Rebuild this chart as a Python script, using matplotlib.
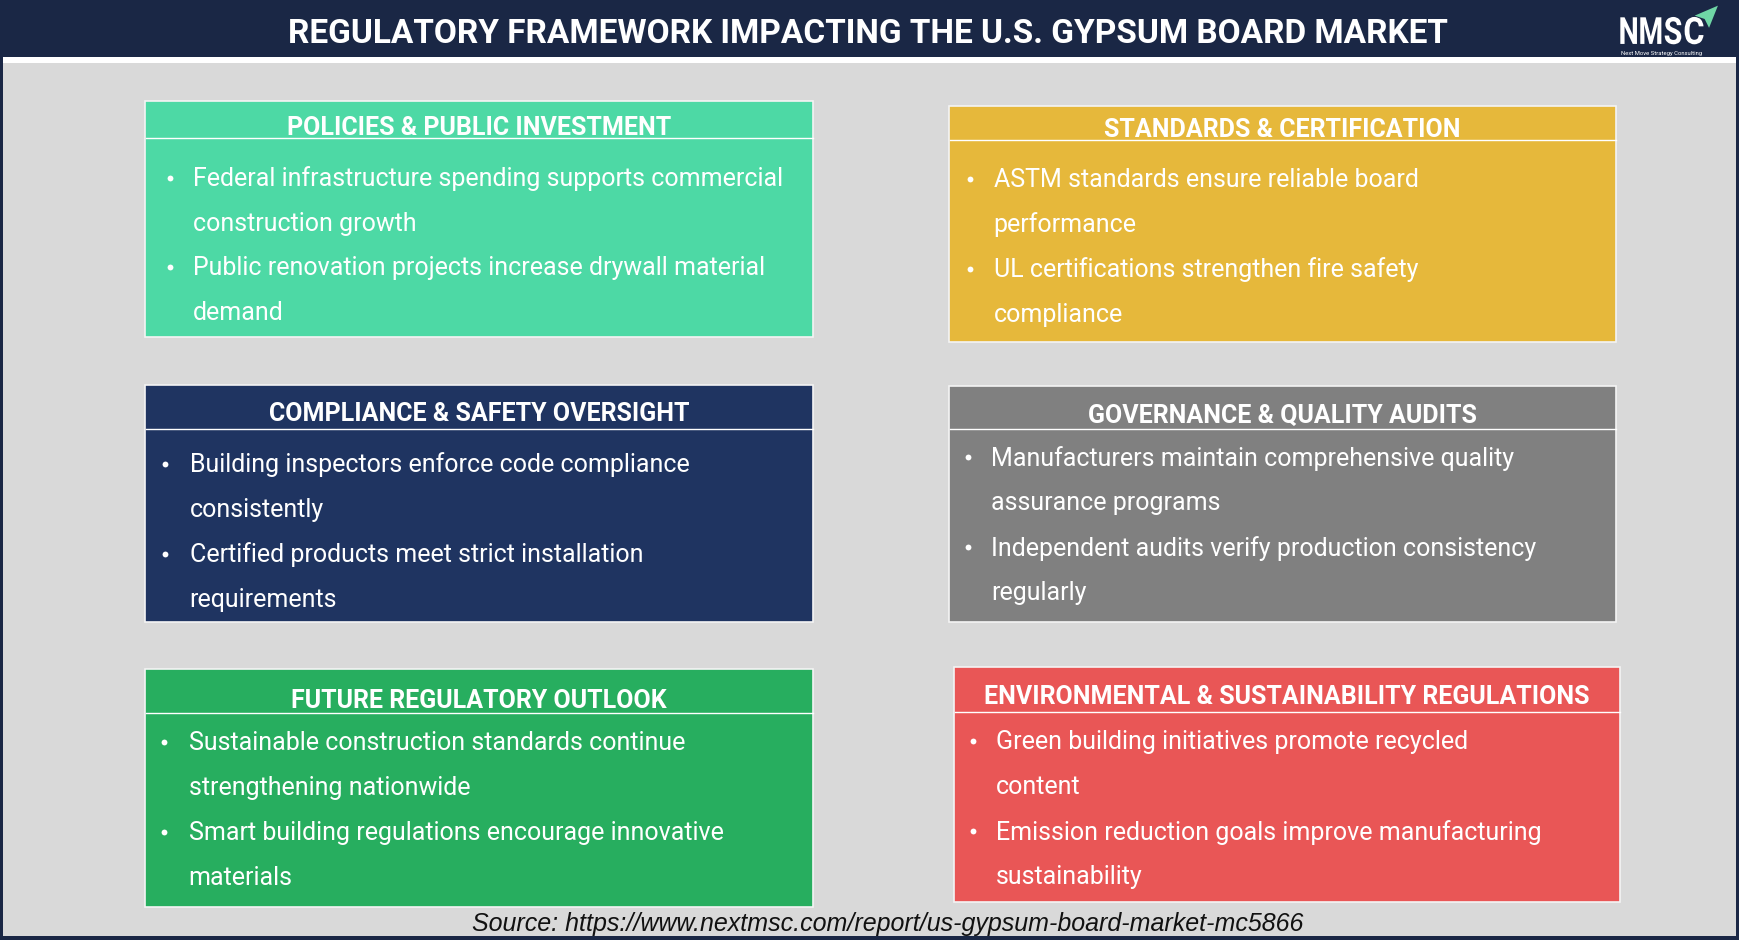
import matplotlib
matplotlib.use("Agg")
import matplotlib.pyplot as plt
from matplotlib.patches import Rectangle, Polygon, PathPatch
from matplotlib.textpath import TextPath
from matplotlib.font_manager import FontProperties
from matplotlib.transforms import Affine2D

# ---------------- data ----------------
title = "REGULATORY FRAMEWORK IMPACTING THE U.S. GYPSUM BOARD MARKET"
source = "Source: https://www.nextmsc.com/report/us-gypsum-board-market-mc5866"
logo_letters = ["N", "M", "S", "C"]
logo_sub = "Next Move Strategy Consulting"

box_titles = [
    "POLICIES & PUBLIC INVESTMENT",
    "STANDARDS & CERTIFICATION",
    "COMPLIANCE & SAFETY OVERSIGHT",
    "GOVERNANCE & QUALITY AUDITS",
    "FUTURE REGULATORY OUTLOOK",
    "ENVIRONMENTAL & SUSTAINABILITY REGULATIONS",
]
box_bullets = [
    [["Federal infrastructure spending supports commercial", "construction growth"],
     ["Public renovation projects increase drywall material", "demand"]],
    [["ASTM standards ensure reliable board", "performance"],
     ["UL certifications strengthen fire safety", "compliance"]],
    [["Building inspectors enforce code compliance", "consistently"],
     ["Certified products meet strict installation", "requirements"]],
    [["Manufacturers maintain comprehensive quality", "assurance programs"],
     ["Independent audits verify production consistency", "regularly"]],
    [["Sustainable construction standards continue", "strengthening nationwide"],
     ["Smart building regulations encourage innovative", "materials"]],
    [["Green building initiatives promote recycled", "content"],
     ["Emission reduction goals improve manufacturing", "sustainability"]],
]
box_colors = ["#4dd9a5", "#e6b83b", "#1f3461", "#808080", "#27ae5f", "#e95656"]

# ---------------- layout (display units, 1568 x 859) ----------------
W, H = 1568, 859
# x0, y_top, width, height, header-line offset, first-bullet offset
box_geom = [
    (131, 92, 602, 213, 33, 69),
    (856, 96, 601, 213, 31, 66),
    (131, 348, 602, 214, 40, 71),
    (856, 349, 601, 213, 39, 64),
    (131, 604, 602, 214, 40, 66),
    (860, 602, 601, 212, 41, 67),
]
bullet_dx = [22, 19, 18, 17, 17, 17]
text_dx = [43, 40, 40, 38, 39, 38]
title_dy = [23, 21, 25, 26, 28, 26]
line_gap = 40.5

fig = plt.figure(figsize=(17.39, 9.53), dpi=100)
ax = fig.add_axes([0, 0, 1, 1])
ax.set_xlim(0, W)
ax.set_ylim(H, 0)
ax.axis("off")

navy = "#1a2745"
# outer frame and background
ax.add_patch(Rectangle((0, 0), W, H, facecolor="white", edgecolor="none"))
ax.add_patch(Rectangle((0, 0), W, 848, facecolor=navy, edgecolor="none"))
ax.add_patch(Rectangle((3, 52), W - 6, 6, facecolor="white", edgecolor="none"))
ax.add_patch(Rectangle((3, 58), W - 6, 787, facecolor="#d9d9d9", edgecolor="none"))

# title
ax.text(783, 30.5, title, color="white", fontsize=24, fontweight="bold",
        family="Roboto", ha="center", va="center")

# logo: condensed bold letters fitted into their slots
logo_slots = [(1461, 1476), (1479, 1498), (1501, 1516), (1519, 1536)]
logo_top, logo_bot = 16.5, 40.5
fp = FontProperties(family="Roboto", weight="bold")
for letter, (xa, xb) in zip(logo_letters, logo_slots):
    tp = TextPath((0, 0), letter, size=1, prop=fp)
    ext = tp.get_extents()
    sx = (xb - xa) / ext.width
    sy = (logo_bot - logo_top) / 0.711
    tr = Affine2D().translate(-ext.x0, 0).scale(sx, -sy).translate(xa, logo_bot)
    ax.add_patch(PathPatch(tr.transform_path(tp), facecolor="white",
                           edgecolor="none"))
ax.text(1498, 48, logo_sub, color="white", fontsize=4.2,
        family="Roboto", ha="center", va="center")
ax.add_patch(Polygon([[1528, 15], [1549, 6], [1541, 26], [1537, 18]], closed=True,
                     facecolor="#6fd6a6", edgecolor="none"))

# boxes
for i in range(6):
    x0, y0, w, h, ldy, bdy = box_geom[i]
    ax.add_patch(Rectangle((x0, y0), w, h, facecolor=box_colors[i],
                           edgecolor="#f4f4f4", linewidth=1.2))
    ax.plot([x0 + 1, x0 + w], [y0 + ldy, y0 + ldy], color="white", lw=1.0)
    ax.text(x0 + w / 2, y0 + title_dy[i], box_titles[i], color="white",
            fontsize=18, fontweight="bold", family="Roboto",
            ha="center", va="center")
    y = y0 + bdy
    for bullet in box_bullets[i]:
        ax.plot([x0 + bullet_dx[i]], [y], marker="o", ms=4.2, color="white",
                mec="none")
        for ln in bullet:
            ax.text(x0 + text_dx[i], y, ln, color="white", fontsize=18,
                    family="Roboto", ha="left", va="center")
            y += line_gap

# source
ax.text(800, 833, source, color="#111111", fontsize=18, style="italic",
        family="Liberation Sans", ha="center", va="center")

fig.savefig("out.png", dpi=100)
